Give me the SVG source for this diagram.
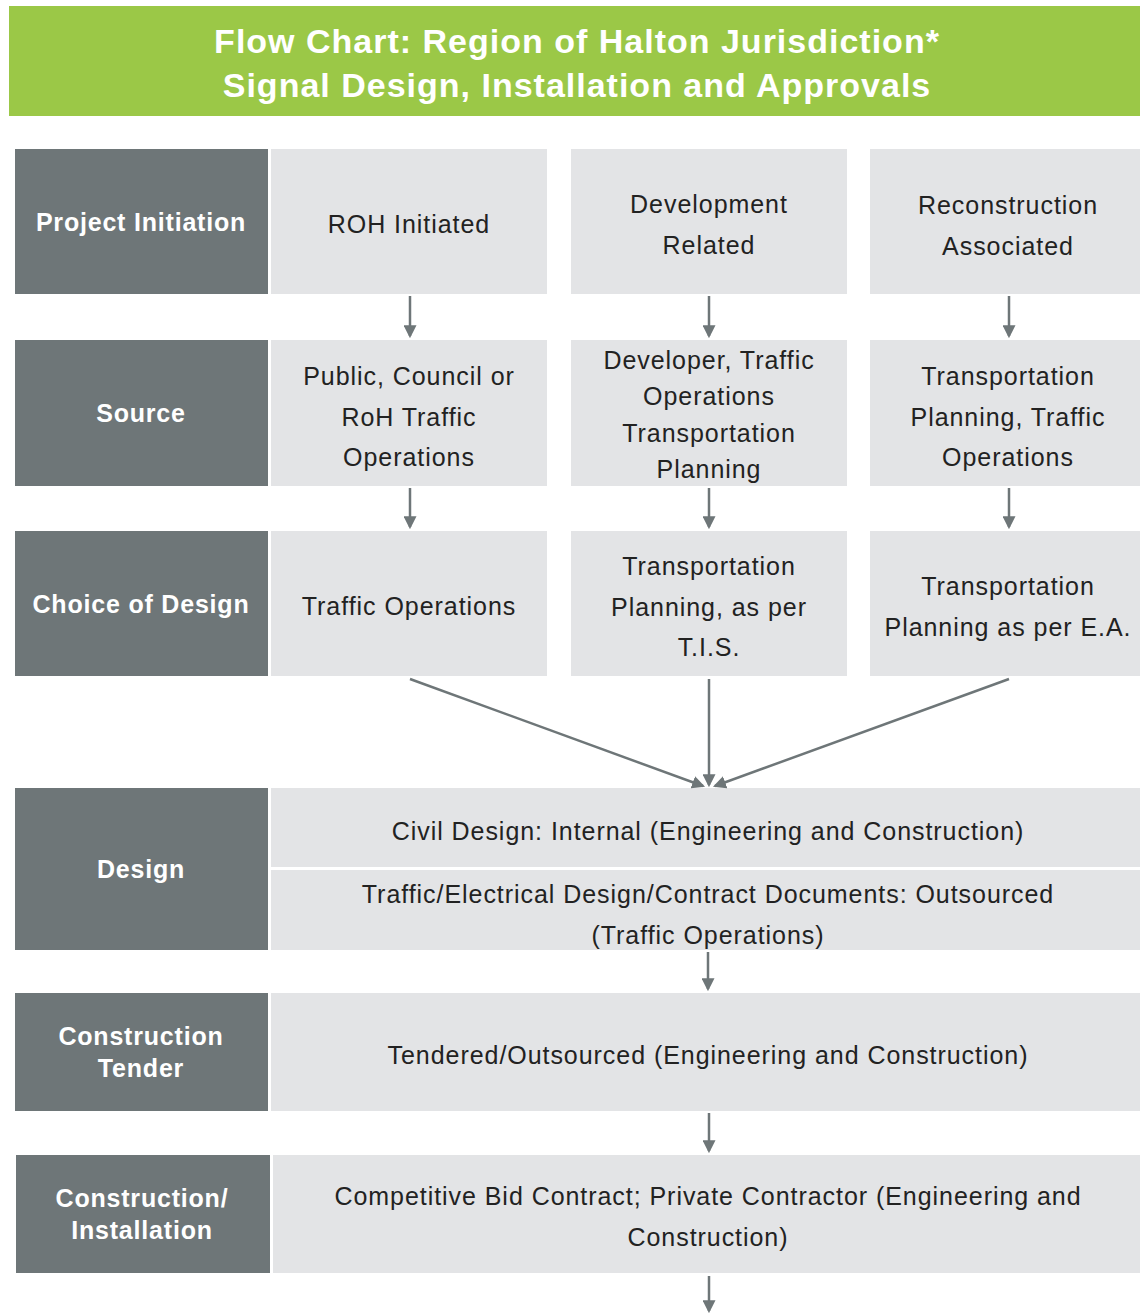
<svg xmlns="http://www.w3.org/2000/svg" width="1140" height="1314" viewBox="0 0 1140 1314">
<defs>
<style>
.title{font-family:"Liberation Sans",Arial,sans-serif;font-weight:bold;font-size:34px;fill:#fff;text-anchor:middle;letter-spacing:1px}
.lab{font-family:"Liberation Sans",Arial,sans-serif;font-weight:bold;font-size:25px;fill:#fff;text-anchor:middle;letter-spacing:0.8px}
.txt{font-family:"Liberation Sans",Arial,sans-serif;font-size:25px;fill:#222;text-anchor:middle;letter-spacing:0.95px}
.dark{fill:#6E7678}
.light{fill:#E3E4E6}
.con{stroke:#6E7678;stroke-width:2.5;fill:none;marker-end:url(#ah)}
</style>
<marker id="ah" viewBox="0 0 12 12" refX="10" refY="6" markerWidth="13" markerHeight="13" markerUnits="userSpaceOnUse" orient="auto">
<path d="M0,0 L12,6 L0,12 z" fill="#6E7678"/>
</marker>
</defs>
<rect width="1140" height="1314" fill="#fff"/>
<g id="title">
<rect x="9" y="6" width="1131" height="110" fill="#9BC847"/>
<text class="title" x="577" y="53">Flow Chart: Region of Halton Jurisdiction*</text>
<text class="title" x="577" y="97">Signal Design, Installation  and Approvals</text>
</g>
<g id="lab-initiation"><rect class="dark" x="15" y="149" width="253" height="145"/><text class="lab" x="141" y="231">Project Initiation</text></g>
<g id="roh"><rect class="light" x="271" y="149" width="276" height="145"/><text class="txt" x="409" y="233">ROH Initiated</text></g>
<g id="dev"><rect class="light" x="571" y="149" width="276" height="145"/><text class="txt" x="709" y="213">Development</text><text class="txt" x="709" y="254">Related</text></g>
<g id="recon"><rect class="light" x="870" y="149" width="270" height="145"/><text class="txt" x="1008" y="214">Reconstruction</text><text class="txt" x="1008" y="255">Associated</text></g>

<g id="lab-source"><rect class="dark" x="15" y="340" width="253" height="146"/><text class="lab" x="141" y="422">Source</text></g>
<g id="src1"><rect class="light" x="271" y="340" width="276" height="146"/><text class="txt" x="409" y="385">Public, Council or</text><text class="txt" x="409" y="426">RoH Traffic</text><text class="txt" x="409" y="466">Operations</text></g>
<g id="src2"><rect class="light" x="571" y="340" width="276" height="146"/><text class="txt" x="709" y="369">Developer, Traffic</text><text class="txt" x="709" y="405">Operations</text><text class="txt" x="709" y="442">Transportation</text><text class="txt" x="709" y="478">Planning</text></g>
<g id="src3"><rect class="light" x="870" y="340" width="270" height="146"/><text class="txt" x="1008" y="385">Transportation</text><text class="txt" x="1008" y="426">Planning, Traffic</text><text class="txt" x="1008" y="466">Operations</text></g>

<g id="lab-choice"><rect class="dark" x="15" y="531" width="253" height="145"/><text class="lab" x="141" y="613">Choice of Design</text></g>
<g id="ch1"><rect class="light" x="271" y="531" width="276" height="145"/><text class="txt" x="409" y="615">Traffic Operations</text></g>
<g id="ch2"><rect class="light" x="571" y="531" width="276" height="145"/><text class="txt" x="709" y="575">Transportation</text><text class="txt" x="709" y="616">Planning, as per</text><text class="txt" x="709" y="656">T.I.S.</text></g>
<g id="ch3"><rect class="light" x="870" y="531" width="270" height="145"/><text class="txt" x="1008" y="595">Transportation</text><text class="txt" x="1008" y="636">Planning as per E.A.</text></g>

<g id="lab-design"><rect class="dark" x="15" y="788" width="253" height="162"/><text class="lab" x="141" y="878">Design</text></g>
<g id="civil"><rect class="light" x="271" y="788" width="869" height="79"/><text class="txt" x="708" y="840">Civil Design: Internal (Engineering and Construction)</text></g>
<g id="traffic"><rect class="light" x="271" y="870" width="869" height="80"/><text class="txt" x="708" y="903">Traffic/Electrical Design/Contract Documents: Outsourced</text><text class="txt" x="708" y="944">(Traffic Operations)</text></g>

<g id="lab-tender"><rect class="dark" x="15" y="993" width="253" height="118"/><text class="lab" x="141" y="1045">Construction</text><text class="lab" x="141" y="1077">Tender</text></g>
<g id="tender"><rect class="light" x="271" y="993" width="869" height="118"/><text class="txt" x="708" y="1064">Tendered/Outsourced (Engineering and Construction)</text></g>

<g id="lab-install"><rect class="dark" x="16" y="1155" width="254" height="118"/><text class="lab" x="142" y="1207">Construction/</text><text class="lab" x="142" y="1239">Installation</text></g>
<g id="install"><rect class="light" x="273" y="1155" width="867" height="118"/><text class="txt" x="708" y="1205">Competitive Bid Contract; Private Contractor (Engineering and</text><text class="txt" x="708" y="1246">Construction)</text></g>

<g id="connectors">
<line class="con" x1="410" y1="296" x2="410" y2="336"/>
<line class="con" x1="709" y1="296" x2="709" y2="336"/>
<line class="con" x1="1009" y1="296" x2="1009" y2="336"/>
<line class="con" x1="410" y1="488" x2="410" y2="527"/>
<line class="con" x1="709" y1="488" x2="709" y2="527"/>
<line class="con" x1="1009" y1="488" x2="1009" y2="527"/>
<line class="con" x1="410" y1="679" x2="703" y2="786"/>
<line class="con" x1="709" y1="679" x2="709" y2="785"/>
<line class="con" x1="1009" y1="679" x2="715" y2="786"/>
<line class="con" x1="708" y1="952" x2="708" y2="989"/>
<line class="con" x1="709" y1="1113" x2="709" y2="1151"/>
<line class="con" x1="709" y1="1276" x2="709" y2="1311"/>
</g>
</svg>
